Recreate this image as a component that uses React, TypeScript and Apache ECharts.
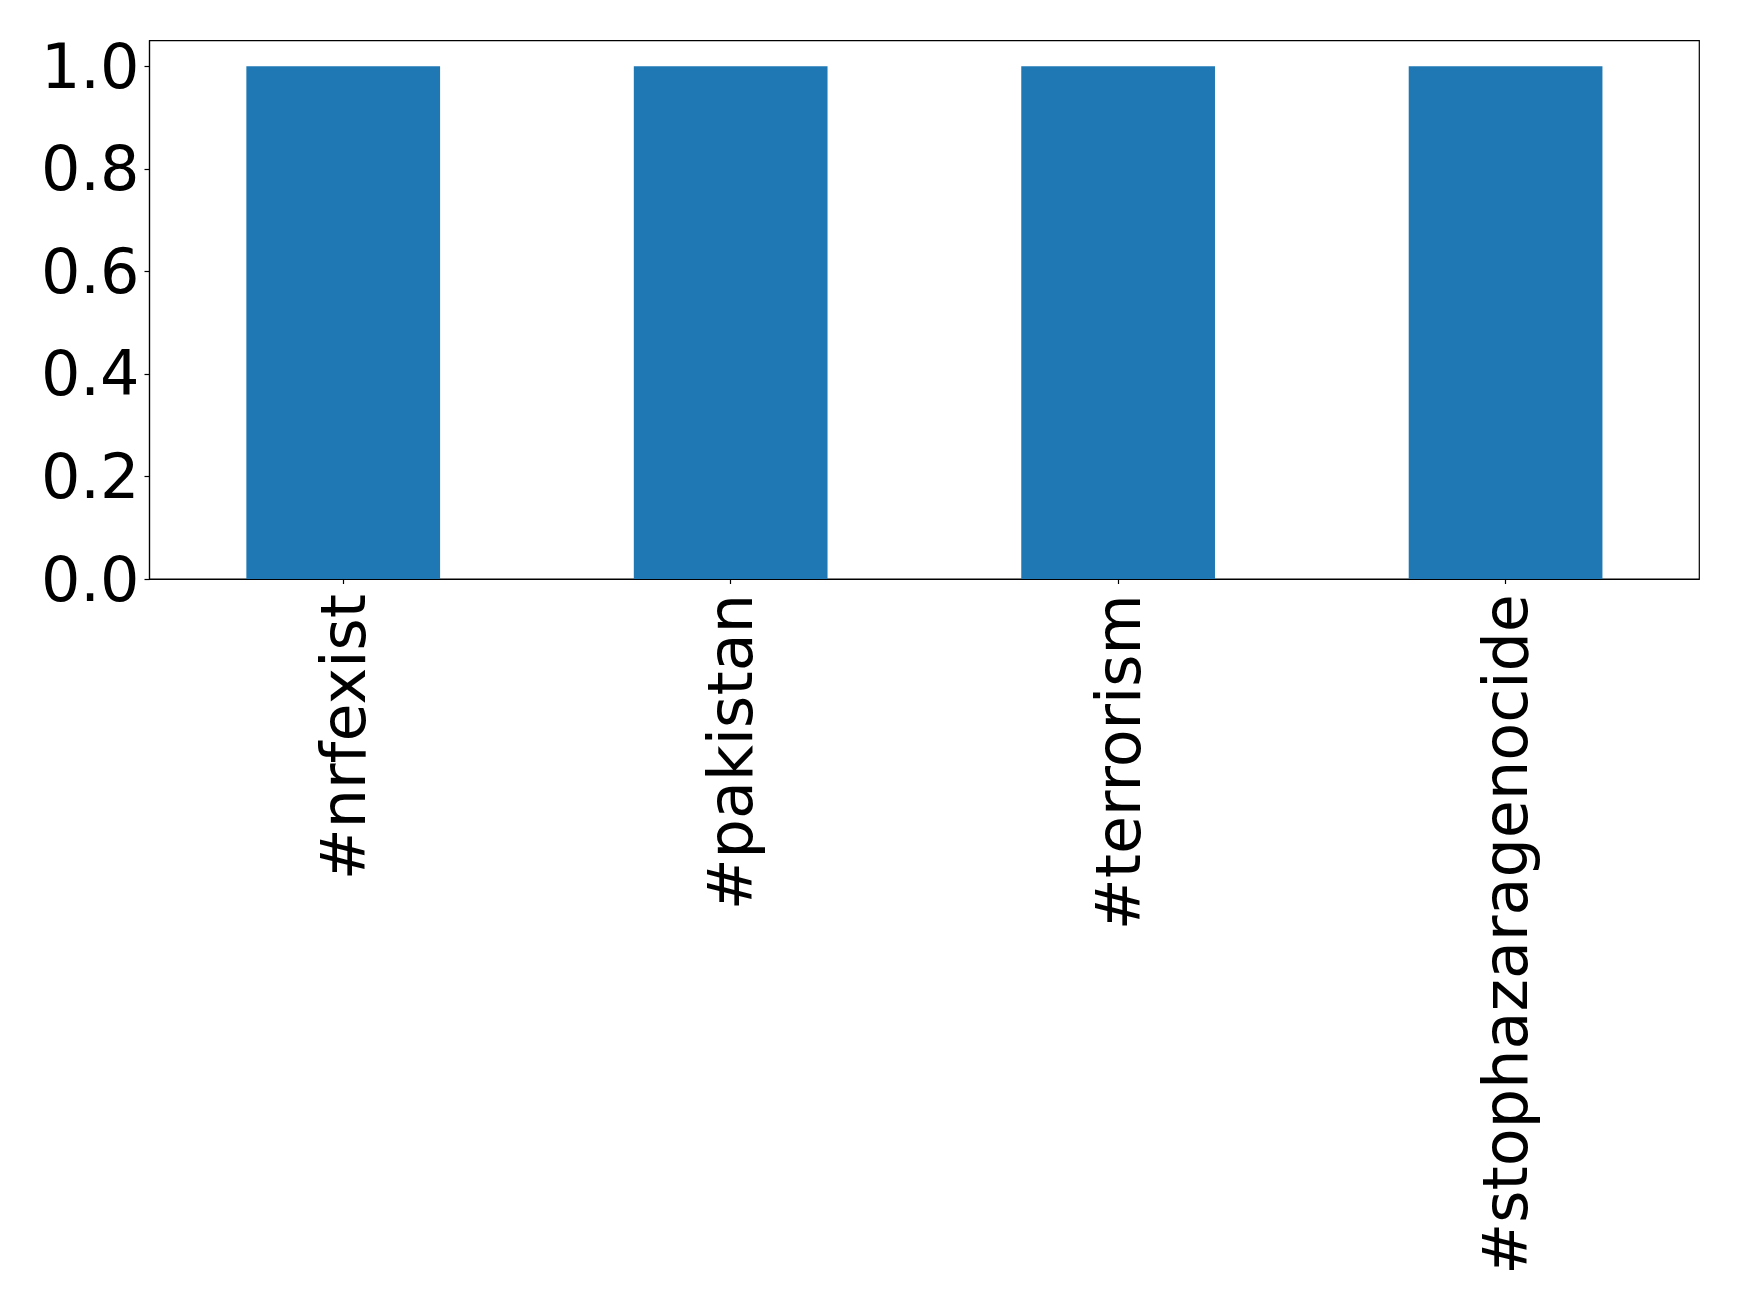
import React, { useEffect, useRef } from "react";
import * as echarts from "echarts";

const categories = ["#nrfexist", "#pakistan", "#terrorism", "#stophazaragenocide"];
const values = [1.0, 1.0, 1.0, 1.0];
const yTicks = [0, 0.2, 0.4, 0.6, 0.8, 1.0];

export default function App() {
  const ref = useRef<HTMLDivElement>(null);
  useEffect(() => {
    if (!ref.current) return;
    const chart = echarts.init(ref.current, null, { renderer: "svg" });
    const font = "DejaVu Sans";
    chart.setOption({
      animation: false,
      backgroundColor: "#ffffff",
      grid: {
        left: 149.5,
        top: 40.7,
        right: 39.7,
        bottom: 735,
        show: true,
        borderColor: "#000000",
        borderWidth: 1.2,
        backgroundColor: "transparent",
      },
      xAxis: {
        type: "category",
        data: categories,
        boundaryGap: true,
        axisLine: { show: true, lineStyle: { color: "#000000", width: 1.2 } },
        axisTick: { show: true, alignWithLabel: true, length: 5, lineStyle: { color: "#000000", width: 1.2 } },
        axisLabel: {
          rotate: 90,
          interval: 0,
          margin: 15,
          fontFamily: font,
          fontSize: 62,
          color: "#000000",
        },
        splitLine: { show: false },
      },
      yAxis: {
        type: "value",
        min: 0,
        max: 1.05,
        axisLine: { show: true, lineStyle: { color: "#000000", width: 1.2 } },
        axisTick: {
          show: true,
          length: 5,
          customValues: yTicks,
          lineStyle: { color: "#000000", width: 1.2 },
        },
        axisLabel: {
          customValues: yTicks,
          margin: 10,
          fontFamily: font,
          fontSize: 62,
          color: "#000000",
          formatter: (v: number) => v.toFixed(1),
        },
        splitLine: { show: false },
      },
      series: [
        {
          type: "bar",
          data: values,
          barWidth: "50%",
          itemStyle: { color: "#1f77b4" },
        },
      ],
    });
    return () => chart.dispose();
  }, []);
  return (
    <div
      ref={ref}
      style={{ position: "fixed", left: 0, top: 0, width: 1739, height: 1314, background: "#fff" }}
    />
  );
}
